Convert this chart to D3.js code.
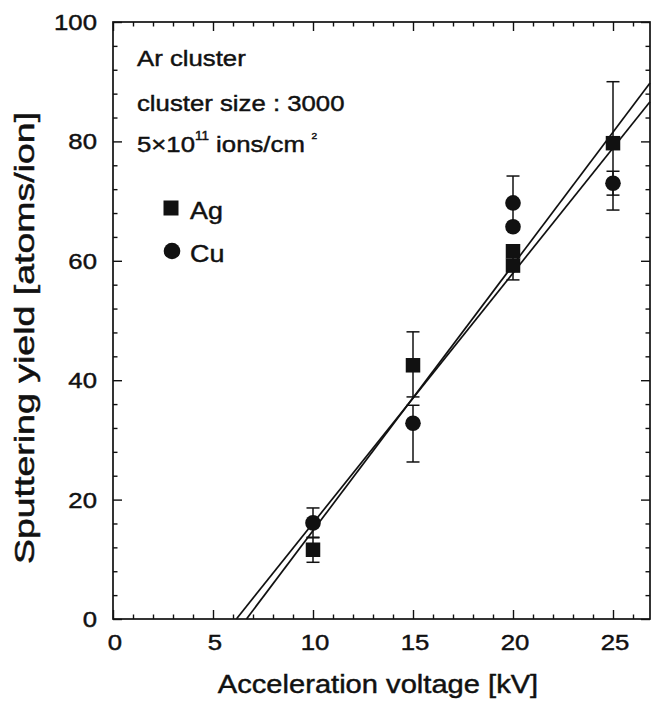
<!DOCTYPE html>
<html>
<head>
<meta charset="utf-8">
<script src="https://cdn.jsdelivr.net/npm/d3@7"></script>
<style>
  body { margin: 0; background: #fff; }
  svg { display: block; }
  text { font-family: "Liberation Sans", Arial, Helvetica, sans-serif; fill: #111; stroke: #111; stroke-width: 0.45; }
</style>
</head>
<body>
<svg id="chart" width="651" height="704"></svg>
<script>
// Tick labels
const xTicks = [0, 5, 10, 15, 20, 25];
const yTicks = [0, 20, 40, 60, 80, 100];

// Ag target (squares): voltage [kV], yield, error-bar ends (null = no bar)
const agVoltage = [10, 15, 20, 20, 25];
const agYield   = [11.6, 42.5, 61.6, 59.2, 79.7];
const agLow     = [9.5, 37.2, null, 56.8, 68.5];
const agHigh    = [13.7, 48.1, null, 61.6, 90.0];

// Cu target (circles)
const cuVoltage = [10, 15, 20, 20, 25];
const cuYield   = [16.1, 32.8, 69.7, 65.7, 73.0];
const cuLow     = [13.6, 26.3, 65.2, null, 71.0];
const cuHigh    = [18.6, 35.8, 74.2, null, 75.0];

// Linear fits: yield = slope * V + intercept
const fitNames     = ["Ag", "Cu"];
const fitSlope     = [4.45, 4.19];
const fitIntercept = [-29.7, -25.85];

// Legend
const legendNames = ["Ag", "Cu"];
const legendShapes = ["square", "circle"];

const SX = 1.12; // horizontal glyph stretch of the typeset figure
const svg = d3.select("#chart");
const plot = { left: 113, right: 650, top: 22, bottom: 619 };

const x = d3.scaleLinear().domain([0, 26.85]).range([plot.left, plot.right]);
const y = d3.scaleLinear().domain([0, 100]).range([plot.bottom, plot.top]);

const ink = "#111";

// Frame
svg.append("rect")
  .attr("x", plot.left).attr("y", plot.top)
  .attr("width", plot.right - plot.left).attr("height", plot.bottom - plot.top)
  .attr("fill", "none").attr("stroke", ink).attr("stroke-width", 1.7);

// Ticks (inward, on all four sides), majors and minors
function tickAxis(axisFn, scale, values, len, transform) {
  const g = svg.append("g").attr("transform", transform)
    .call(axisFn(scale).tickValues(values).tickSize(len).tickFormat(""));
  g.select(".domain").remove();
  g.selectAll(".tick line").attr("stroke", ink).attr("stroke-width", 1.4);
  return g;
}
const xMinor = d3.range(1, 27).filter(v => v % 5 !== 0);
const yMinor = d3.range(4, 100, 4).filter(v => v % 20 !== 0);
tickAxis(d3.axisTop, x, xTicks, 9, `translate(0,${plot.bottom})`);
tickAxis(d3.axisTop, x, xMinor, 4.5, `translate(0,${plot.bottom})`);
tickAxis(d3.axisBottom, x, xTicks, 9, `translate(0,${plot.top})`);
tickAxis(d3.axisBottom, x, xMinor, 4.5, `translate(0,${plot.top})`);
tickAxis(d3.axisRight, y, yTicks, 9, `translate(${plot.left},0)`);
tickAxis(d3.axisRight, y, yMinor, 4.5, `translate(${plot.left},0)`);
tickAxis(d3.axisLeft, y, yTicks, 9, `translate(${plot.right},0)`);
tickAxis(d3.axisLeft, y, yMinor, 4.5, `translate(${plot.right},0)`);

// Text helper with the figure's slightly wide lettering
function label(px, py, str, size, anchor) {
  return svg.append("text")
    .attr("transform", `translate(${px},${py}) scale(${SX},1)`)
    .attr("font-size", size).attr("text-anchor", anchor || "start")
    .text(str);
}

// Tick labels
xTicks.forEach(v => label(x(v) + 2, plot.bottom + 31, v, 23, "middle"));
yTicks.forEach(v => label(plot.left - 16, y(v) + 8, v, 23, "end"));

// Axis titles
label(378, 693, "Acceleration voltage [kV]", 26, "middle");
svg.append("text")
  .attr("transform", `translate(34,338) rotate(-90) scale(1.5,${SX})`)
  .attr("font-size", 25).attr("text-anchor", "middle")
  .text("Sputtering yield [atoms/ion]");

// Fit lines from the zero crossing to the right edge
const xMax = x.domain()[1];
fitNames.forEach((name, i) => {
  const x0 = -fitIntercept[i] / fitSlope[i];
  const pts = [x0, xMax].map(v => [x(v), y(fitSlope[i] * v + fitIntercept[i])]);
  svg.append("path")
    .attr("d", d3.line()(pts))
    .attr("fill", "none").attr("stroke", ink).attr("stroke-width", 1.7);
});

// Error bars
function errorBars(vs, lows, highs) {
  vs.forEach((v, i) => {
    if (lows[i] == null) return;
    const cx = x(v), capW = 6.5;
    const g = svg.append("g").attr("stroke", ink).attr("stroke-width", 1.5);
    g.append("line").attr("x1", cx).attr("x2", cx).attr("y1", y(lows[i])).attr("y2", y(highs[i]));
    [lows[i], highs[i]].forEach(e =>
      g.append("line").attr("x1", cx - capW).attr("x2", cx + capW).attr("y1", y(e)).attr("y2", y(e)));
  });
}
errorBars(agVoltage, agLow, agHigh);
errorBars(cuVoltage, cuLow, cuHigh);

// Markers
const sq = 14.5, rad = 7.8;
svg.append("g").selectAll("rect").data(agVoltage.map((v, i) => [v, agYield[i]]))
  .join("rect")
  .attr("x", d => x(d[0]) - sq / 2).attr("y", d => y(d[1]) - sq / 2)
  .attr("width", sq).attr("height", sq).attr("fill", ink);
svg.append("g").selectAll("circle").data(cuVoltage.map((v, i) => [v, cuYield[i]]))
  .join("circle")
  .attr("cx", d => x(d[0])).attr("cy", d => y(d[1])).attr("r", rad).attr("fill", ink);

// Annotation
label(137, 66, "Ar cluster", 23);
label(137, 111, "cluster size : 3000", 23);
const t3 = label(137, 152, "5×10", 23);
t3.append("tspan").attr("font-size", 12).attr("dy", -12).text("11");
t3.append("tspan").attr("dy", 12).text(" ions/cm");
t3.append("tspan").attr("font-size", 9).attr("dy", -13).attr("dx", 6).text("2");

// Legend
legendNames.forEach((name, i) => {
  const ly = 208 + i * 43;
  if (legendShapes[i] === "square") {
    svg.append("rect").attr("x", 171 - 7.5).attr("y", ly - 7.5)
      .attr("width", 15).attr("height", 15).attr("fill", ink);
  } else {
    svg.append("circle").attr("cx", 172).attr("cy", ly).attr("r", 8.3).attr("fill", ink);
  }
  label(190, ly + 11, name, 24);
});
</script>
</body>
</html>
